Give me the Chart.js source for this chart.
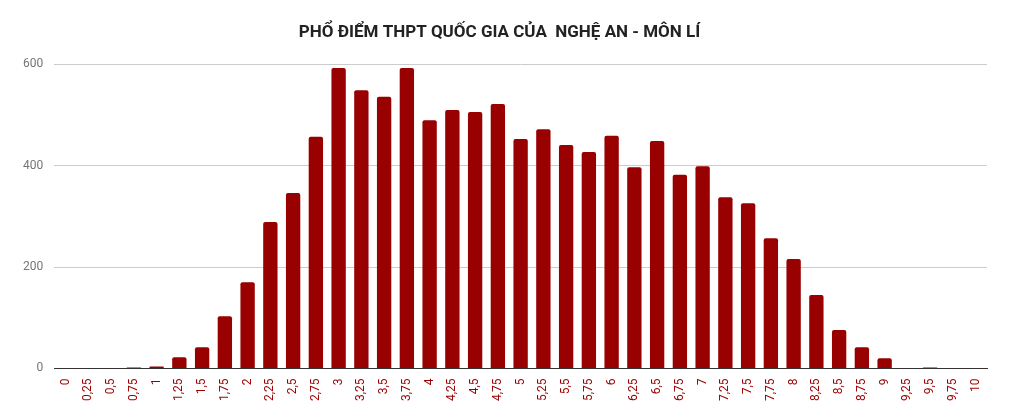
<!DOCTYPE html>
<html>
<head>
<meta charset="utf-8">
<title>Phổ điểm Nghệ An - Môn Lí</title>
<script src="https://cdn.jsdelivr.net/npm/chart.js@4/dist/chart.umd.min.js"></script>
<style>
    html, body { margin: 0; padding: 0; background: #fff; }
    #wrap { width: 1009px; height: 418px; }
</style>
</head>
<body>
<div id="wrap"><canvas id="diemChart"></canvas></div>
<script>
// các mức điểm và số thí sinh
const diem = ['0', '0,25', '0,5', '0,75', '1', '1,25', '1,5', '1,75', '2', '2,25',
    '2,5', '2,75', '3', '3,25', '3,5', '3,75', '4', '4,25', '4,5', '4,75',
    '5', '5,25', '5,5', '5,75', '6', '6,25', '6,5', '6,75', '7', '7,25',
    '7,5', '7,75', '8', '8,25', '8,5', '8,75', '9', '9,25', '9,5', '9,75', '10'];
const soThiSinh = [0, 0, 0, 2, 4, 22, 42, 103, 170, 289,
    346, 457, 593, 549, 536, 593, 490, 510, 506, 522,
    453, 472, 441, 427, 459, 397, 449, 382, 399, 338,
    326, 257, 216, 145, 76, 42, 20, 0, 2, 0, 0];
const yTicks = [0, 200, 400, 600];

Chart.defaults.font.family = 'Roboto, "Noto Sans", sans-serif';

const ctx = document.getElementById('diemChart').getContext('2d');
new Chart(ctx, {
    type: 'bar',
    data: {
        labels: diem,
        datasets: [{
            label: 'Số thí sinh',
            data: soThiSinh,
            backgroundColor: '#990000',
            borderRadius: { topLeft: 2, topRight: 2 },
            borderSkipped: 'bottom',
            categoryPercentage: 1,
            barPercentage: 0.63
        }]
    },
    options: {
        responsive: true,
        maintainAspectRatio: false,
        animation: false,
        layout: { padding: { left: 12, right: 22, top: 0, bottom: 15 } },
        scales: {
            y: {
                min: 0,
                max: 600,
                afterBuildTicks: function(axis) {
                    axis.ticks = yTicks.map(v => ({ value: v }));
                },
                border: { display: false },
                grid: { color: '#cccccc', drawTicks: false },
                ticks: { color: '#757575', font: { size: 12 }, padding: 11 }
            },
            x: {
                border: { display: true, color: '#333333', width: 1 },
                grid: { display: false },
                ticks: {
                    color: '#990000',
                    font: { size: 12 },
                    minRotation: 90,
                    maxRotation: 90,
                    autoSkip: false,
                    padding: 2
                }
            }
        },
        plugins: {
            legend: { display: false },
            tooltip: { enabled: false },
            title: {
                display: true,
                text: 'PHỔ ĐIỂM THPT QUỐC GIA CỦA  NGHỆ AN - MÔN LÍ',
                color: '#222222',
                font: { size: 17, weight: 'bold' },
                padding: { top: 23, bottom: 21 }
            }
        }
    }
});
</script>
</body>
</html>
